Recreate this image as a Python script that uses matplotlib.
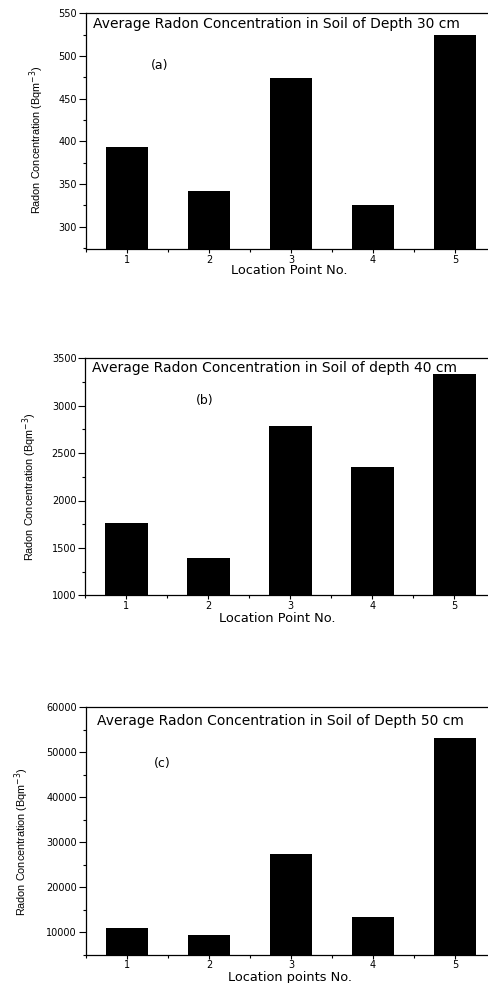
import matplotlib
matplotlib.use("Agg")
import matplotlib.pyplot as plt
from matplotlib.ticker import MultipleLocator

plt.rcParams['font.family'] = ['DejaVu Sans']

locations = [1, 2, 3, 4, 5]
depth30 = [394, 342, 474, 325, 525]
depth40 = [1763, 1390, 2786, 2350, 3331]
depth50 = [10900, 9480, 27260, 13260, 53040]

titles = ["Average Radon Concentration in Soil of Depth 30 cm",
          "Average Radon Concentration in Soil of depth 40 cm",
          "Average Radon Concentration in Soil of Depth 50 cm"]
tags = ["(a)", "(b)", "(c)"]
xlabels = ["Location Point No.", "Location Point No.", "Location points No."]
ylabel = "Radon Concentration (Bqm$^{-3}$)"

W, H = 489, 983
fig = plt.figure(figsize=(W / 100, H / 100), dpi=100)

# axes boxes in pixels: left, top, bottom
boxes = [(86, 13.3, 249), (85.5, 358.3, 595.3), (86, 707, 954.7)]
ylims = [(274, 550), (1000, 3500), (5000, 60000)]
ysteps = [50, 500, 10000]
tag_pos = [(160, 66), (205, 400), (162, 764)]
title_pos = [(93, 24), (92, 368), (97, 721)]
ylab_pos = [(37, 140), (30, 487), (22, 842)]
xlab_pos = [(289, 271), (277, 619), (290, 977)]
data = [depth30, depth40, depth50]

for i in range(3):
    left, top, bottom = boxes[i]
    # axis spans x from 0.5 to 5.5, 82 px per unit
    right = left + 5 * 82
    ax = fig.add_axes([left / W, 1 - bottom / H, (right - left) / W, (bottom - top) / H])
    ax.bar(locations, data[i], width=0.52, color='black')
    ax.set_xlim(0.5, 5.5)
    ax.set_ylim(*ylims[i])
    ax.xaxis.set_major_locator(MultipleLocator(1))
    ax.xaxis.set_minor_locator(MultipleLocator(0.5))
    ax.yaxis.set_major_locator(MultipleLocator(ysteps[i]))
    ax.yaxis.set_minor_locator(MultipleLocator(ysteps[i] / 2))
    if i == 0:
        ax.set_yticks([300, 350, 400, 450, 500, 550])
    ax.tick_params(axis='y', which='major', direction='out', length=5, width=0.8, labelsize=7, pad=1.5)
    ax.tick_params(axis='y', which='minor', direction='out', length=2.5, width=0.8)
    ax.tick_params(axis='x', which='major', direction='out', length=3, width=0.8, labelsize=7, pad=1)
    ax.tick_params(axis='x', which='minor', direction='out', length=2, width=0.8)
    for s in ax.spines.values():
        s.set_linewidth(0.9)
    ax.spines['right'].set_visible(False)

    tx, ty = title_pos[i]
    fig.text(tx / W, 1 - ty / H, titles[i], fontsize=10, va='center', ha='left')
    gx, gy = tag_pos[i]
    fig.text(gx / W, 1 - gy / H, tags[i], fontsize=9, va='center', ha='center')
    lx, ly = ylab_pos[i]
    fig.text(lx / W, 1 - ly / H, ylabel, rotation=90,
             fontsize=7.8, va='center', ha='center', family=['Liberation Sans Narrow', 'Liberation Sans'])
    xx, xy = xlab_pos[i]
    fig.text(xx / W, 1 - xy / H, xlabels[i], fontsize=9.3, va='center', ha='center')

fig.savefig("out.png", dpi=100)
